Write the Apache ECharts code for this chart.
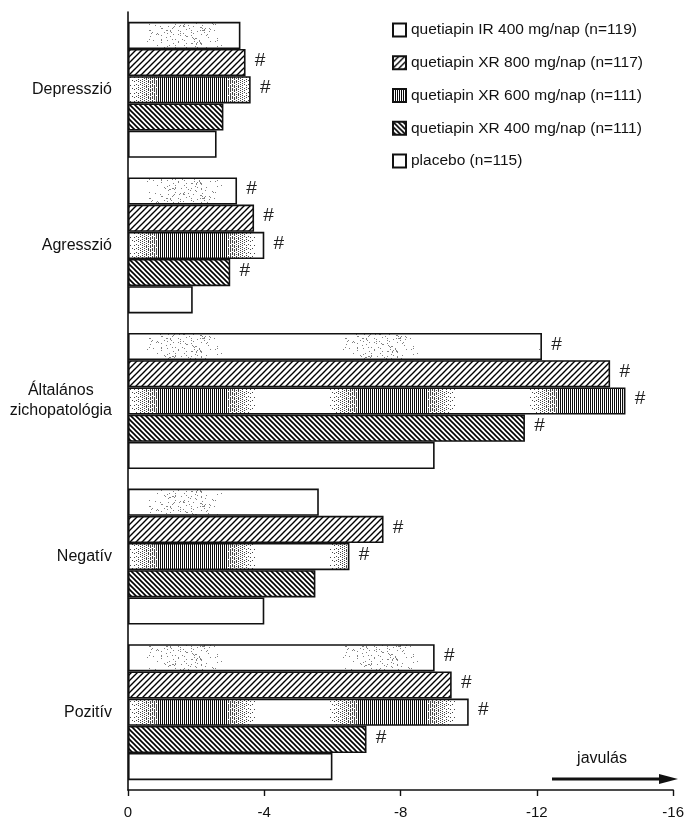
<!DOCTYPE html>
<html>
<head>
<meta charset="utf-8">
<script src="https://cdn.jsdelivr.net/npm/echarts@6/dist/echarts.min.js"></script>
<style>html,body{margin:0;padding:0;background:#fff}#c{width:687px;height:825px}</style>
</head>
<body>
<div id="c"></div>
<script>
// ---- data ----
const categories = ['Depresszió', 'Agresszió', 'Általános\nzichopatológia', 'Negatív', 'Pozitív'];
const seriesNames = ['quetiapin IR 400 mg/nap (n=119)', 'quetiapin XR 800 mg/nap (n=117)', 'quetiapin XR 600 mg/nap (n=111)', 'quetiapin XR 400 mg/nap (n=111)', 'placebo (n=115)'];
const irValues = [-3.3, -3.2, -12.15, -5.6, -9.0];
const xr800Values = [-3.45, -3.7, -14.15, -7.5, -9.5];
const xr600Values = [-3.6, -4.0, -14.6, -6.5, -10.0];
const xr400Values = [-2.8, -3.0, -11.65, -5.5, -7.0];
const placeboValues = [-2.6, -1.9, -9.0, -4.0, -6.0];
const irSig = [false, true, true, false, true];
const xr800Sig = [true, true, true, true, true];
const xr600Sig = [true, true, true, true, true];
const xr400Sig = [false, true, true, false, true];
const placeboSig = [false, false, false, false, false];
const xTicks = { min: -16, max: 0, interval: 4 };

const FONT = "'Liberation Sans', Arial, sans-serif";

// ---- fill patterns ----
function hatch(dir, s, lw) {
  const c = document.createElement('canvas');
  c.width = s; c.height = s;
  const g = c.getContext('2d');
  g.fillStyle = '#fff'; g.fillRect(0, 0, s, s);
  g.strokeStyle = '#000'; g.lineWidth = lw;
  g.beginPath();
  if (dir === '/') {
    g.moveTo(-1, s + 1); g.lineTo(s + 1, -1);
    g.moveTo(-1 - s, s + 1); g.lineTo(1, -1);
    g.moveTo(s - 1, s + 1); g.lineTo(2 * s + 1, -1);
  } else {
    g.moveTo(-1, -1); g.lineTo(s + 1, s + 1);
    g.moveTo(-1 - s, -1); g.lineTo(1, s + 1);
    g.moveTo(s - 1, -1); g.lineTo(2 * s + 1, s + 1);
  }
  g.stroke();
  return c;
}
const bayer8 = [0, 4, 2, 6, 1, 5, 3, 7];
function stripes() {
  const W = 200, H = 8, c = document.createElement('canvas');
  c.width = W; c.height = H;
  const g = c.getContext('2d');
  const im = g.createImageData(W, H);
  for (let x = 0; x < W; x++) {
    let u = ((x - 192) % W + W) % W; const dist = Math.min(u, W - u);
    const d = dist <= 32 ? 1 : dist >= 64 ? 0 : 1 - (dist - 32) / 32;
    for (let y = 0; y < H; y++) {
      let v = 255;
      if (x % 2 === 0) {
        if (bayer8[(y + (x % 4 === 0 ? 0 : 3)) % 8] < d * 8 - 0.01) v = d > 0.9 ? 10 : 70;
      }
      const i = (y * W + x) * 4;
      im.data[i] = v; im.data[i + 1] = v; im.data[i + 2] = v; im.data[i + 3] = 255;
    }
  }
  g.putImageData(im, 0, 0);
  return c;
}
function stipple() {
  const W = 196, H = 28, c = document.createElement('canvas');
  c.width = W; c.height = H;
  const g = c.getContext('2d');
  const im = g.createImageData(W, H);
  for (let x = 0; x < W; x++) {
    let u = ((x - 182) % W + W) % W; const dist = Math.min(u, W - u);
    const d = dist <= 20 ? 1 : dist >= 40 ? 0 : 1 - (dist - 20) / 20;
    for (let y = 0; y < H; y++) {
      let h = (Math.imul(x + 1, 73856093) ^ Math.imul(y + 7, 19349663)) >>> 0;
      h = (Math.imul(h ^ (h >>> 13), 1274126177) >>> 0) % 100;
      const black = h < d * 9;
      const i = (y * W + x) * 4;
      const v = black ? 130 : 255;
      im.data[i] = v; im.data[i + 1] = v; im.data[i + 2] = v; im.data[i + 3] = 255;
    }
  }
  g.putImageData(im, 0, 0);
  return c;
}

const fills = [
  { image: stipple(), repeat: 'repeat' },
  { image: hatch('/', 6, 1.4), repeat: 'repeat' },
  { image: stripes(), repeat: 'repeat' },
  { image: hatch('\\', 5, 1.6), repeat: 'repeat' },
  '#ffffff'
];
const allValues = [irValues, xr800Values, xr600Values, xr400Values, placeboValues];
const allSig = [irSig, xr800Sig, xr600Sig, xr400Sig, placeboSig];

const series = seriesNames.map((name, k) => ({
  name,
  type: 'bar',
  barGap: '0%',
  barCategoryGap: '12.6%',
  itemStyle: { color: fills[k], borderColor: '#111', borderWidth: 1.6 },
  emphasis: { disabled: true },
  label: {
    show: true, position: 'right', distance: 9, offset: [0, -2],
    fontFamily: "'Liberation Sans', sans-serif", fontStyle: 'italic', fontSize: 19, color: '#222',
    formatter: (p) => allSig[k][p.dataIndex] ? '#' : ''
  },
  data: allValues[k]
}));

const chart = echarts.init(document.getElementById('c'), null, { renderer: 'canvas' });
chart.setOption({
  backgroundColor: '#fff',
  animation: false,
  grid: { left: 128, right: 10, top: 12, bottom: 35, containLabel: false },
  legend: {
    orient: 'vertical', left: 392, top: 20, padding: 0,
    itemWidth: 13, itemHeight: 13, itemGap: 13, icon: 'rect',
    selectedMode: false,
    textStyle: { fontFamily: FONT, fontSize: 15.5, color: '#111', lineHeight: 19.8 },
    data: seriesNames.map((n, k) => k === 0 ? { name: n, itemStyle: { color: '#ffffff' } } : n)
  },
  xAxis: {
    type: 'value', inverse: true,
    min: xTicks.min, max: xTicks.max, interval: xTicks.interval,
    axisLine: { show: true, lineStyle: { color: '#111', width: 1.6 } },
    axisTick: { show: true, length: 6, lineStyle: { color: '#111', width: 1.4 } },
    axisLabel: { fontFamily: FONT, fontSize: 15, color: '#111', margin: 15 },
    splitLine: { show: false }
  },
  yAxis: {
    type: 'category', inverse: true, data: categories,
    axisLine: { show: true, lineStyle: { color: '#111', width: 1.6 } },
    axisTick: { show: false },
    axisLabel: {
      fontFamily: FONT, fontSize: 16, color: '#111', margin: 16, lineHeight: 20,
      formatter: (v) => v.indexOf('\n') >= 0 ? v.split('\n').map(s => '{c|' + s + '}').join('\n') : v,
      rich: { c: { align: 'center', fontFamily: FONT, fontSize: 16, color: '#111', lineHeight: 20 } }
    }
  },
  graphic: [
    { type: 'text', x: 602, y: 759, style: { text: 'javulás', fontFamily: FONT, fontSize: 16, fill: '#111', align: 'center', verticalAlign: 'middle' } },
    { type: 'line', shape: { x1: 552, y1: 779, x2: 664, y2: 779 }, style: { stroke: '#111', lineWidth: 3 } },
    { type: 'polygon', shape: { points: [[659, 774], [678, 779], [659, 784]] }, style: { fill: '#111' } }
  ],
  series
});
</script>
</body>
</html>
